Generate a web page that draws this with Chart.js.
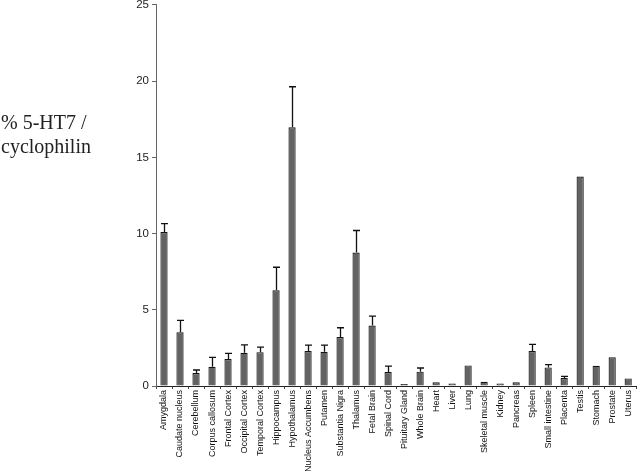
<!DOCTYPE html>
<html>
<head>
<meta charset="utf-8">
<script src="https://cdn.jsdelivr.net/npm/chart.js@4.4.0/dist/chart.umd.min.js"></script>
<style>
html,body{margin:0;padding:0;background:#fff;overflow:hidden;}
#wrap{position:relative;width:640px;height:471px;overflow:hidden;}
#c{position:absolute;left:0;top:-5px;}
#ytitle{position:absolute;left:1px;top:110px;font-family:"Liberation Serif","Times New Roman",serif;font-size:20px;line-height:24px;color:#222;}
</style>
</head>
<body>
<div id="wrap">
<canvas id="c" width="640" height="476"></canvas>
<div id="ytitle">% 5-HT7 /<br>cyclophilin</div>
</div>
<script>
const categories = ["Amygdala","Caudate nucleus","Cerebellum","Corpus callosum","Frontal Cortex","Occipital Cortex","Temporal Cortex","Hippocampus","Hypothalamus","Nucleus Accumbens","Putamen","Substantia Nigra","Thalamus","Fetal Brain","Spinal Cord","Pituitary Gland","Whole Brain","Heart","Liver","Lung","Skeletal muscle","Kidney","Pancreas","Spleen","Small intestine","Placenta","Testis","Stomach","Prostate","Uterus"];
const values = [10.1,3.53,0.85,1.26,1.77,2.18,2.22,6.28,16.97,2.29,2.25,3.21,8.75,3.97,0.92,0.13,0.94,0.24,0.17,1.35,0.28,0.17,0.24,2.29,1.22,0.52,13.74,1.33,1.88,0.5];
const errors = [0.55,0.77,0.2,0.62,0.37,0.52,0.33,1.51,2.66,0.39,0.43,0.61,1.45,0.61,0.39,0,0.24,0,0,0,0,0,0,0.44,0.18,0.11,0,0,0,0];
const yTicks = [0,5,10,15,20,25];

const errorBars = {
  id:'errorBars',
  afterDatasetsDraw(chart){
    const ctx = chart.ctx, meta = chart.getDatasetMeta(0), ys = chart.scales.y;
    ctx.save();
    ctx.strokeStyle = '#111';
    ctx.lineWidth = 1.3;
    meta.data.forEach((el,i)=>{
      const e = errors[i];
      if(!e) return;
      const x = Math.round(el.x)+0.5;
      const y0 = ys.getPixelForValue(values[i]);
      const y1 = ys.getPixelForValue(values[i]+e);
      ctx.beginPath();
      ctx.moveTo(x,y0); ctx.lineTo(x,y1);
      ctx.moveTo(x-3.5,y1); ctx.lineTo(x+3.5,y1);
      ctx.stroke();
    });
    ctx.restore();
  }
};

new Chart(document.getElementById('c'),{
  type:'bar',
  data:{labels:categories,datasets:[{data:values,backgroundColor:'#636363',borderColor:'#151515',borderWidth:1.2,barPercentage:0.45,categoryPercentage:1}]},
  options:{
    responsive:false,animation:false,
    layout:{padding:{left:0,right:1,top:0,bottom:0}},
    plugins:{legend:{display:false},tooltip:{enabled:false}},
    scales:{
      x:{
        afterFit(s){s.height=85;},
        grid:{display:true,drawOnChartArea:false,drawTicks:true,tickLength:3,offset:true,color:'#444'},
        border:{color:'#222',width:1},
        ticks:{minRotation:90,maxRotation:90,autoSkip:false,font:{family:'Liberation Sans, Arial',size:9},color:'#111',padding:1}
      },
      y:{
        min:0,max:25,
        afterFit(s){s.width=156;},
        afterBuildTicks(s){s.ticks=yTicks.map(v=>({value:v}));},
        grid:{display:true,drawOnChartArea:false,drawTicks:true,tickLength:4,color:'#666'},
        border:{color:'#666',width:1},
        ticks:{font:{family:'Liberation Sans, Arial',size:11.5},color:'#222',padding:3}
      }
    }
  },
  plugins:[errorBars]
});
</script>
</body>
</html>
